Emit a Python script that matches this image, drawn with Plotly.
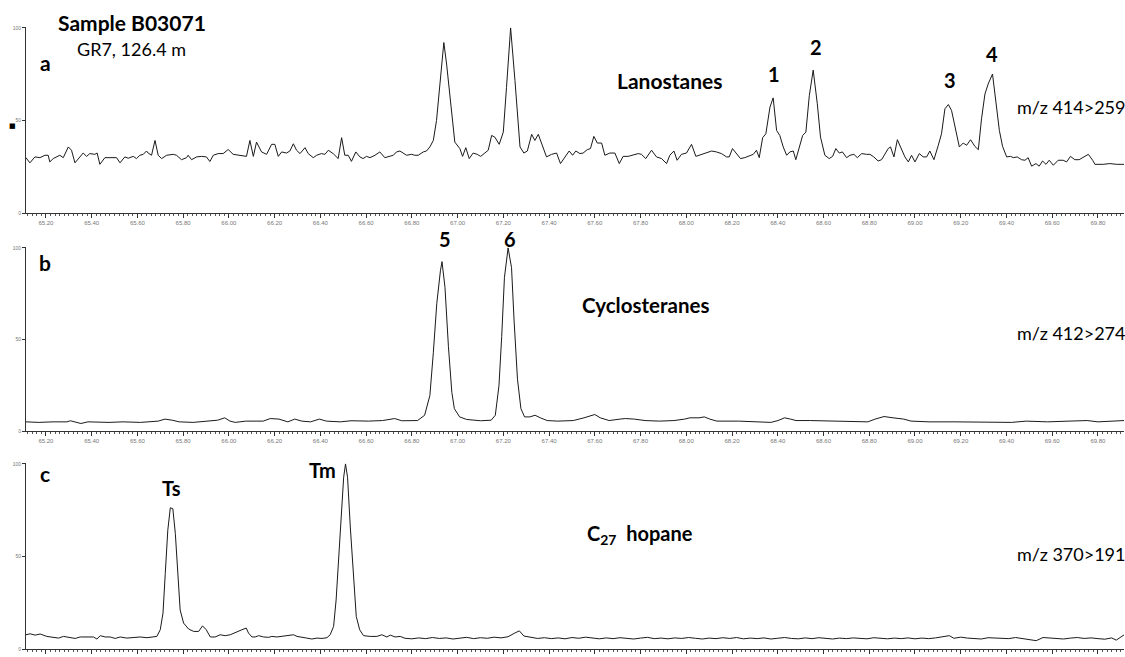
import plotly.graph_objects as go

# ---------------- data (retention time [min], relative intensity [%]) ----------------
rt_a = [65.112, 65.130, 65.152, 65.174, 65.196, 65.210, 65.217, 65.232, 65.261, 65.276, 65.298, 65.312,
        65.327, 65.349, 65.363, 65.378, 65.392, 65.414, 65.424, 65.436, 65.458, 65.480, 65.509, 65.524,
        65.545, 65.560, 65.582, 65.596, 65.611, 65.626, 65.640, 65.647, 65.662, 65.677, 65.691, 65.706,
        65.728, 65.757, 65.771, 65.793, 65.815, 65.822, 65.837, 65.859, 65.881, 65.902, 65.917, 65.932,
        65.953, 65.975, 65.997, 66.019, 66.048, 66.077, 66.092, 66.107, 66.121, 66.143, 66.165, 66.187,
        66.201, 66.216, 66.231, 66.252, 66.267, 66.282, 66.296, 66.311, 66.333, 66.347, 66.369, 66.384,
        66.405, 66.420, 66.435, 66.456, 66.478, 66.493, 66.507, 66.522, 66.536, 66.555, 66.573, 66.587,
        66.602, 66.617, 66.639, 66.660, 66.682, 66.704, 66.719, 66.733, 66.748,
        66.777, 66.799, 66.813, 66.828, 66.850, 66.864, 66.879, 66.894, 66.908, 66.923, 66.940, 66.952,
        66.967, 66.988, 67.010, 67.022, 67.036, 67.051, 67.068, 67.086, 67.101, 67.119, 67.134, 67.149,
        67.163, 67.182, 67.200, 67.214, 67.232, 67.251, 67.273, 67.290, 67.305, 67.324, 67.338, 67.353,
        67.372, 67.389, 67.411, 67.433, 67.450, 67.469, 67.488, 67.503, 67.517, 67.535, 67.549, 67.567,
        67.581, 67.596, 67.611, 67.630, 67.644, 67.666, 67.688, 67.707, 67.724, 67.746, 67.768, 67.790,
        67.804, 67.823, 67.848, 67.870, 67.892, 67.914, 67.928, 67.946, 67.960, 67.979, 68.001, 68.023,
        68.042, 68.067, 68.089, 68.111, 68.132, 68.154, 68.176, 68.188, 68.202, 68.220, 68.237, 68.256,
        68.278, 68.293, 68.307, 68.319, 68.334, 68.348, 68.366,
        68.380, 68.395, 68.409, 68.424, 68.439, 68.453, 68.468, 68.479, 68.494, 68.509, 68.523, 68.538,
        68.555, 68.573, 68.587, 68.606, 68.625, 68.640, 68.654, 68.669, 68.683, 68.701, 68.716, 68.733,
        68.748, 68.767, 68.788, 68.803, 68.820, 68.839, 68.854, 68.869, 68.883, 68.893, 68.908, 68.923,
        68.937, 68.956, 68.971, 68.985, 69.000, 69.019, 69.036, 69.051, 69.065, 69.083, 69.102, 69.116,
        69.131, 69.146, 69.160, 69.175, 69.194, 69.211, 69.226, 69.243, 69.262, 69.277, 69.291, 69.306,
        69.320, 69.339, 69.354, 69.369, 69.383, 69.401, 69.418, 69.430, 69.447, 69.466, 69.481, 69.495,
        69.510, 69.529, 69.543, 69.558, 69.573, 69.587, 69.605, 69.626, 69.648, 69.663, 69.680, 69.699,
        69.718, 69.739, 69.758, 69.777, 69.787, 69.823, 69.852, 69.882, 69.914]
int_a = [30.0, 27.1, 30.3, 29.9, 31.2, 31.2, 27.6, 29.4, 31.2, 29.9, 35.7, 33.9,
         27.1, 30.3, 32.4, 30.6, 32.1, 31.7, 32.4, 26.3, 29.9, 29.9, 29.9, 27.1,
         30.3, 29.6, 30.6, 29.4, 31.2, 31.7, 33.5, 32.4, 31.2, 39.2, 31.2, 29.4,
         31.2, 31.7, 31.2, 28.8, 29.9, 31.2, 28.8, 30.3, 30.6, 30.3, 27.8, 31.2,
         32.1, 32.1, 34.3, 31.7, 31.2, 30.6, 39.2, 30.6, 38.3, 33.0, 31.7, 37.1,
         37.1, 30.6, 33.0, 32.4, 33.5, 37.4, 33.9, 32.1, 35.3, 32.1, 29.9, 31.2,
         32.1, 31.7, 33.9, 32.1, 29.4, 40.7, 31.2, 31.2, 27.9, 33.0, 30.3, 29.4,
         30.6, 29.9, 31.2, 33.0, 29.9, 30.6, 31.2, 33.0, 33.5,
         31.2, 31.7, 31.2, 31.2, 33.0, 33.5, 35.7, 39.2, 50.0, 67.9, 92.1, 80.5,
         64.3, 38.3, 34.8, 30.6, 35.3, 29.4, 32.4, 31.7, 30.6, 32.4, 33.9, 41.9,
         41.0, 37.1, 43.7, 67.9, 100.0, 71.5, 35.7, 32.4, 33.5, 42.5, 39.2, 42.5,
         35.7, 30.3, 31.7, 32.4, 26.7, 30.3, 33.5, 31.2, 33.5, 32.1, 32.4, 34.2,
         34.8, 41.4, 37.8, 37.8, 31.2, 32.4, 32.4, 26.7, 30.6, 30.6, 31.2, 32.1,
         31.7, 29.4, 33.9, 30.3, 29.4, 26.7, 31.2, 33.5, 28.5, 31.7, 32.4, 37.1,
         30.6, 31.7, 32.4, 33.5, 33.0, 32.1, 30.3, 30.3, 34.8, 31.7, 29.4, 29.9,
         31.2, 31.7, 33.9, 29.9, 40.7, 42.8, 57.2,
         62.2, 44.6, 41.9, 35.7, 31.2, 33.0, 33.5, 28.8, 34.8, 41.9, 43.7, 63.4,
         77.2, 59.0, 41.0, 31.2, 29.4, 30.6, 34.8, 32.4, 33.0, 29.9, 31.2, 31.7,
         29.9, 32.1, 31.7, 31.7, 30.3, 28.1, 28.8, 32.1, 34.8, 35.7, 30.3, 39.6,
         35.7, 30.3, 27.6, 31.2, 27.6, 32.1, 30.3, 30.3, 33.5, 28.8, 36.6, 42.8,
         56.3, 58.6, 55.4, 46.4, 35.7, 37.8, 36.6, 39.6, 36.0, 34.2, 50.9, 64.3,
         69.7, 75.1, 60.8, 44.6, 36.0, 30.3, 30.6, 29.9, 30.3, 28.8, 28.5, 29.9,
         25.3, 26.7, 25.3, 28.1, 26.3, 28.5, 25.8, 28.5, 28.5, 27.6, 30.6, 28.8,
         28.8, 30.3, 31.7, 28.5, 26.3, 26.3, 26.7, 26.3, 26.3]

rt_b = [65.113, 65.169, 65.231, 65.292, 65.307, 65.323, 65.353, 65.384, 65.476, 65.537, 65.614, 65.691,
        65.721, 65.752, 65.783, 65.844, 65.905, 65.951, 65.982, 66.005, 66.028, 66.074, 66.150, 66.181,
        66.219, 66.258, 66.288, 66.319, 66.357, 66.396, 66.426, 66.488, 66.534, 66.610, 66.672, 66.725,
        66.756, 66.825, 66.856, 66.879, 66.894, 66.909, 66.925, 66.932, 66.945, 66.960, 66.975, 66.986,
        67.009, 67.040, 67.101, 67.147, 67.165, 67.181, 67.193, 67.205, 67.221, 67.236, 67.247, 67.262,
        67.277, 67.293, 67.316, 67.339, 67.362, 67.392, 67.438, 67.481, 67.506, 67.553, 67.600, 67.624,
        67.663, 67.710, 67.734, 67.773, 67.820, 67.883, 67.946, 67.993, 68.016, 68.056, 68.079, 68.103,
        68.134, 68.229, 68.323, 68.370, 68.401, 68.430, 68.456, 68.480, 68.543, 68.637, 68.700, 68.794,
        68.826, 68.865, 68.904, 68.951, 68.983, 69.061, 69.171, 69.328, 69.423, 69.486, 69.580, 69.674,
        69.753, 69.800, 69.863, 69.914]
int_b = [5.0, 4.7, 5.0, 5.0, 5.6, 5.0, 4.1, 5.0, 4.7, 5.0, 4.7, 5.4,
         6.5, 5.9, 5.0, 4.7, 5.4, 5.9, 7.2, 5.4, 4.7, 5.4, 5.4, 6.8,
         6.5, 5.0, 6.5, 5.4, 5.0, 6.5, 5.4, 5.0, 5.6, 5.4, 5.7, 6.8,
         5.6, 5.7, 8.6, 19.4, 42.7, 69.5, 87.5, 92.5, 78.5, 46.2, 21.1, 12.2,
         7.7, 6.3, 5.6, 5.9, 8.6, 24.7, 51.6, 83.9, 100.0, 89.2, 60.6, 28.3,
         12.2, 7.7, 7.7, 8.6, 7.2, 5.7, 5.4, 5.4, 5.7, 7.2, 9.0, 7.2,
         5.7, 6.5, 6.8, 6.5, 5.7, 5.4, 5.7, 6.5, 7.2, 7.2, 7.7, 6.5,
         5.4, 5.4, 5.0, 4.7, 5.7, 7.2, 6.5, 5.7, 5.7, 5.4, 5.0, 5.0,
         6.5, 7.9, 7.2, 6.5, 5.4, 5.0, 5.0, 5.0, 4.7, 5.4, 5.0, 5.4,
         5.7, 5.0, 5.4, 5.7]

rt_c = [65.113, 65.131, 65.153, 65.175, 65.204, 65.234, 65.255, 65.277, 65.306, 65.328, 65.350, 65.379,
        65.408, 65.423, 65.438, 65.459, 65.481, 65.503, 65.525, 65.554, 65.583, 65.612, 65.642, 65.663,
        65.685, 65.700, 65.712, 65.722, 65.733, 65.744, 65.755, 65.766, 65.776, 65.787, 65.802, 65.824,
        65.846, 65.868, 65.885, 65.901, 65.919, 65.940, 65.962, 65.984, 66.006, 66.035, 66.057, 66.076,
        66.086, 66.101, 66.115, 66.130, 66.152, 66.174, 66.188, 66.210, 66.232, 66.254, 66.283, 66.298,
        66.319, 66.341, 66.363, 66.385, 66.407, 66.429, 66.443, 66.458, 66.469, 66.480, 66.490, 66.502,
        66.510, 66.519, 66.531, 66.545, 66.557, 66.572, 66.589, 66.618, 66.647, 66.669, 66.691, 66.706,
        66.727, 66.749, 66.77, 66.80, 66.83, 66.86, 66.89, 66.92, 66.95, 66.98, 67.01, 67.04,
        67.07, 67.10, 67.13, 67.16, 67.19, 67.22, 67.25, 67.27, 67.29, 67.32, 67.35, 67.38,
        67.41, 67.44, 67.47, 67.50, 67.53, 67.56, 67.59, 67.62, 67.65, 67.68, 67.71, 67.74,
        67.77, 67.80, 67.83, 67.86, 67.89, 67.92, 67.95, 67.98, 68.01, 68.04, 68.07, 68.10,
        68.13, 68.16, 68.19, 68.22, 68.25, 68.28, 68.31, 68.34, 68.37, 68.40, 68.43, 68.46,
        68.49, 68.52, 68.55, 68.58, 68.61, 68.64, 68.67, 68.70, 68.73, 68.76, 68.79, 68.82,
        68.85, 68.88, 68.91, 68.94, 68.97, 69.00, 69.03, 69.06, 69.09, 69.12, 69.15, 69.17,
        69.20, 69.23, 69.26, 69.29, 69.32, 69.35, 69.38, 69.41, 69.44, 69.47, 69.50, 69.53,
        69.56, 69.59, 69.62, 69.65, 69.68, 69.71, 69.74, 69.77, 69.80, 69.83, 69.86, 69.88, 69.914]
int_c = [7.7, 8.2, 7.5, 8.1, 6.8, 6.5, 5.9, 6.8, 6.3, 5.7, 6.5, 6.3,
         6.5, 5.4, 7.2, 6.5, 6.5, 5.7, 6.5, 5.9, 6.1, 6.5, 6.1, 6.5,
         6.8, 10.4, 19.4, 40.9, 64.2, 76.3, 75.8, 62.4, 40.9, 21.1, 14.0, 10.8,
         9.5, 9.5, 12.5, 10.4, 6.5, 6.5, 7.7, 7.2, 7.7, 9.0, 10.4, 11.3,
         8.6, 6.5, 6.5, 7.2, 6.5, 6.3, 6.8, 6.5, 6.8, 7.2, 7.7, 6.8,
         6.5, 5.9, 5.4, 5.9, 5.7, 6.1, 7.7, 12.2, 26.5, 48.0, 73.1, 92.8,
         100.0, 92.8, 65.9, 39.1, 17.6, 10.4, 7.2, 6.8, 6.8, 7.7, 6.5, 7.5,
         6.5, 6.8, 5.8, 5.5, 6.0, 5.6, 6.2, 5.7, 6.0, 5.4, 5.9, 6.3,
         5.6, 6.1, 5.8, 6.4, 6.0, 6.6, 8.6, 9.8, 7.0, 6.2, 5.7, 6.1,
         5.6, 6.0, 5.5, 6.2, 5.8, 6.4, 5.9, 5.5, 6.0, 5.6, 6.1, 5.7,
         5.4, 5.9, 6.3, 5.6, 5.9, 5.5, 6.0, 5.7, 6.2, 5.8, 5.4, 5.9,
         5.6, 6.1, 5.7, 6.2, 5.5, 5.9, 5.6, 6.0, 5.4, 5.8, 6.2, 5.7,
         5.5, 6.0, 5.6, 6.1, 5.8, 5.4, 5.9, 5.6, 6.0, 5.7, 5.5, 6.1,
         5.8, 5.5, 5.9, 5.6, 6.0, 5.5, 5.9, 5.6, 6.0, 6.4, 7.2, 5.8,
         6.4, 5.9, 5.7, 5.4, 6.1, 6.0, 5.8, 5.6, 6.2, 5.7, 5.2, 4.5,
         6.2, 5.8, 5.6, 5.4, 5.9, 6.2, 5.7, 6.0, 5.6, 5.3, 6.0, 4.8, 7.6]

x_tick_start = 65.20
x_tick_step = 0.20
y_tickvals = [0, 50, 100]
y_ticktext = ["0", "50", "100"]
x_range = [65.113, 69.914]

# ---------------- figure ----------------
W, H = 1125, 657
fig = go.Figure()

panels = [(rt_a, int_a, "", "y"), (rt_b, int_b, "2", "y2"), (rt_c, int_c, "3", "y3")]
for rt, it, sfx, yref in panels:
    fig.add_trace(go.Scatter(x=rt, y=it, mode="lines", xaxis="x" + sfx, yaxis=yref,
                             line=dict(color="#1a1a1a", width=1), showlegend=False,
                             hoverinfo="skip"))

# panel vertical extents in pixels (top = 100 %, bottom = 0 %)
panel_px = [(27, 213), (247, 431), (463, 649)]
x_dom = [26 / W, 1124 / W]

axis_common = dict(showline=True, linecolor="#333333", linewidth=1, showgrid=False,
                   zeroline=False, automargin=False)
for i, (top, bot) in enumerate(panel_px):
    sfx = "" if i == 0 else str(i + 1)
    dom = [1 - bot / H, 1 - top / H]
    fig.layout["xaxis" + sfx] = dict(
        axis_common, domain=x_dom, range=x_range, anchor="y" + sfx,
        tick0=x_tick_start, dtick=x_tick_step, tickformat=".2f",
        ticks="outside", ticklen=4, tickcolor="#333333", tickwidth=1,
        minor=dict(dtick=0.02, tick0=x_tick_start, ticks="outside", ticklen=2,
                   tickcolor="#555555"),
        tickfont=dict(family="Liberation Sans", size=6, color="#777777"))
    fig.layout["yaxis" + sfx] = dict(
        axis_common, domain=dom, range=[0, 100.5], anchor="x" + sfx,
        tickvals=y_tickvals, ticktext=y_ticktext, ticks="outside", ticklen=3,
        tickcolor="#333333",
        tickfont=dict(family="Liberation Sans", size=5, color="#777777"))


def px(x, y):
    return x / W, 1 - y / H


FONT = "Lato"
labels = [
    ("<b>Sample B03071</b>", 132, 23, 21),
    ("GR7, 126.4 m", 131, 49, 18),
    ("<b>a</b>", 45, 62, 21),
    ("<b>Lanostanes</b>", 670, 80, 21),
    ("<b>1</b>", 774, 74, 20),
    ("<b>2</b>", 816, 47, 20),
    ("<b>3</b>", 950, 80, 20),
    ("<b>4</b>", 992, 54, 20),
    ("m/z 414>259", 1071, 107, 18),
    ("<b>b</b>", 45, 263, 21),
    ("<b>5</b>", 445, 239, 20),
    ("<b>6</b>", 510, 239, 20),
    ("<b>Cyclosteranes</b>", 645, 305, 20.5),
    ("m/z 412>274", 1071, 333, 18),
    ("<b>c</b>", 45, 473, 21),
    ("<b>Ts</b>", 171, 488, 20),
    ("<b>Tm</b>", 322, 470, 20),
    ("<b>C<sub>27</sub>  hopane</b>", 640, 534, 20),
    ("m/z 370>191", 1071, 554, 18),
]
for text, x, y, size in labels:
    ax, ay = px(x, y)
    fig.add_annotation(text=text, x=ax, y=ay, xref="paper", yref="paper",
                       xanchor="center", yanchor="middle", showarrow=False,
                       font=dict(family=FONT, size=size, color="#000000"))

# small black mark at the left of panel a
mx, my = px(7, 120)
fig.add_annotation(text="■", x=mx, y=my, xref="paper", yref="paper", showarrow=False,
                   font=dict(family="DejaVu Sans", size=7, color="#000000"))

fig.update_layout(width=W, height=H, margin=dict(l=0, r=0, t=0, b=0),
                  paper_bgcolor="white", plot_bgcolor="white")

fig.write_html("out.html")
